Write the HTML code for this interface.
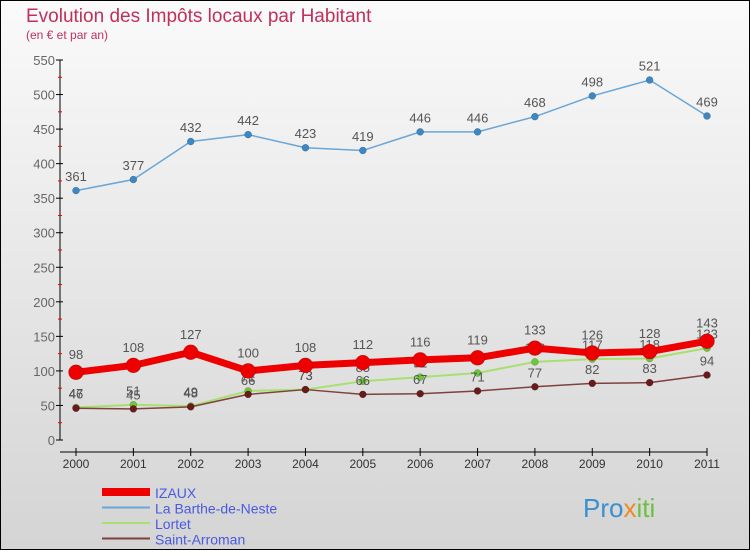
<!DOCTYPE html>
<html><head><meta charset="utf-8"><style>
body{margin:0;width:750px;height:550px;overflow:hidden;font-family:"Liberation Sans",sans-serif}
</style></head><body>
<svg id="c" width="750" height="550" xmlns="http://www.w3.org/2000/svg">
<defs><linearGradient id="bg" x1="0" y1="0" x2="0" y2="1"><stop offset="0" stop-color="#fafafa"/><stop offset="1" stop-color="#d4d4d4"/></linearGradient></defs>
<rect x="0.5" y="0.5" width="749" height="549" fill="url(#bg)" stroke="#000"/>
<text x="26" y="22" font-size="19" fill="#c0305a">Evolution des Impôts locaux par Habitant</text>
<text x="26" y="39" font-size="12" fill="#c0305a">(en € et par an)</text>
<g id="axes"></g><g id="series"></g><g id="legend"></g>
<text x="583" y="517" font-size="26" fill="#3a8fd0">Pro<tspan fill="#f08a20">x</tspan><tspan fill="#6cc040">iti</tspan></text>
</svg>
<script>
const years=[2000,2001,2002,2003,2004,2005,2006,2007,2008,2009,2010,2011];
const yTicks=[0,50,100,150,200,250,300,350,400,450,500,550];
const izaux=[98,108,127,100,108,112,116,119,133,126,128,143];
const barthe=[361,377,432,442,423,419,446,446,468,498,521,469];
const lortet=[47,51,49,71,73,85,91,97,113,117,118,133];
const arroman=[46,45,48,66,73,66,67,71,77,82,83,94];
const NS="http://www.w3.org/2000/svg";
const X=i=>76+i*(707-76)/11, Y=v=>440-v*380/550;
function mk(t,a,p){const e=document.createElementNS(NS,t);for(const k in a)e.setAttribute(k,a[k]);p.appendChild(e);return e;}
const ax=document.getElementById('axes');
let yl=mk('line',{x1:60,y1:60,x2:60,y2:440,stroke:'#000'},ax);


let xl=mk('line',{x1:60,y1:452,x2:707,y2:452,stroke:'#000'},ax);


yTicks.forEach(v=>{mk('line',{x1:56,y1:Y(v),x2:63,y2:Y(v),stroke:'#000'},ax);
if(v<550)mk('line',{x1:58,y1:Y(v+25),x2:62,y2:Y(v+25),stroke:'#e00'},ax);
const t=mk('text',{x:55,y:Y(v)+5,'font-size':13,'text-anchor':'end',fill:'#666'},ax);t.textContent=v;

});
years.forEach((y,i)=>{mk('line',{x1:X(i),y1:448,x2:X(i),y2:456,stroke:'#000'},ax);
const t=mk('text',{x:X(i),y:468,'font-size':12,'text-anchor':'middle',fill:'#333'},ax);t.textContent=y;

});
const sg=document.getElementById('series');
function series(d,col,w,r,dot,name){const g=mk('g',{},sg);


mk('polyline',{points:d.map((v,i)=>X(i)+','+Y(v)).join(' '),fill:'none',stroke:col,'stroke-width':w,'stroke-linejoin':'round'},g);
d.forEach((v,i)=>{const c=mk('circle',{cx:X(i),cy:Y(v),r:r,fill:dot,stroke:'rgba(0,0,0,0.3)','stroke-width':0.5},g);


const t=mk('text',{x:X(i),y:Y(v)-(r+6),'font-size':13,'text-anchor':'middle',fill:'#555'},g);t.textContent=v;

});}
series(barthe,'#6aa6d6',1.5,3.5,'#3d88c4','series-la-barthe');
series(lortet,'#a8e070',2,3.5,'#6cc83a','series-lortet');
series(arroman,'#804040',1.5,3.5,'#6a1a1a','series-saint-arroman');
series(izaux,'#ee0000',7,7.5,'#ee0000','series-izaux');
const lg=document.getElementById('legend');
[['IZAUX','#ee0000',8],['La Barthe-de-Neste','#6aa6d6',2],['Lortet','#a8e070',2],['Saint-Arroman','#804040',2]].forEach((e,i)=>{
const y=492+i*15.5;const g=mk('g',{},lg);


mk('line',{x1:102,y1:y,x2:150,y2:y,stroke:e[1],'stroke-width':e[2]},g);
const t=mk('text',{x:155,y:y+6,'font-size':14,fill:'#4a5ae0'},g);t.textContent=e[0];});
</script>
</body></html>
